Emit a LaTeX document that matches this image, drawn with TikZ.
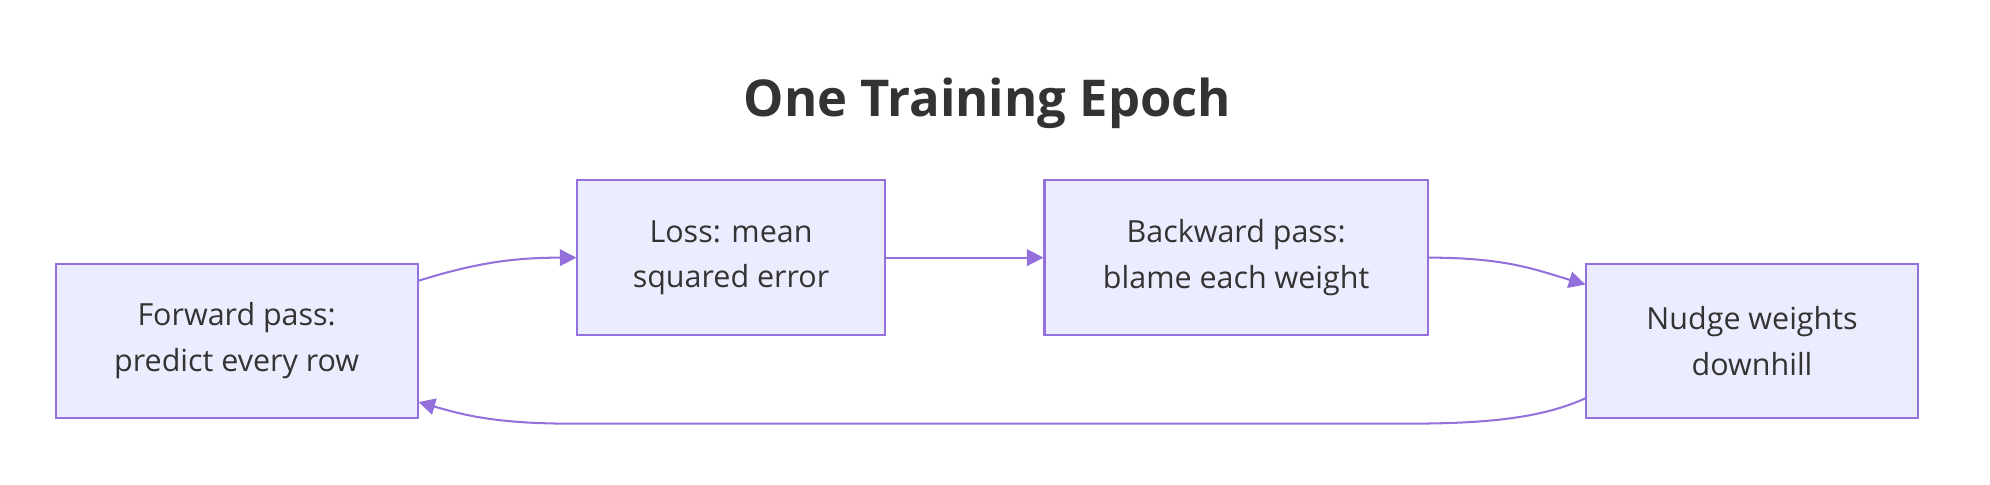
\documentclass[tikz,border=0pt]{standalone}
\usepackage{fontspec}
\setmainfont{Open Sans}
\usetikzlibrary{arrows.meta,calc}
\definecolor{boxfill}{HTML}{ECECFF}
\definecolor{boxline}{HTML}{9370DB}
\definecolor{txt}{HTML}{333333}
\tikzset{
  stepbox/.style={draw=boxline, fill=boxfill, line width=0.8pt, text=txt, align=center,
    font=\fontsize{12}{18}\selectfont, inner sep=0pt},
  arr/.style={draw=boxline, line width=0.8pt, -{Triangle[length=6.5pt,width=6.5pt]}},
}
\begin{document}
\begin{tikzpicture}[x=0.5pt,y=-0.5pt]
\useasboundingbox (0,0) rectangle (1568,381.4);
\node[text=txt, font=\fontsize{20}{24}\selectfont\bfseries, anchor=base] (title) at (778,92) {One Training Epoch};
\node[stepbox, minimum width=142.5pt, minimum height=60.5pt] (f) at (186.5,268.5) {Forward pass:\\predict every row};
\node[stepbox, minimum width=121pt, minimum height=61pt] (l) at (576,203) {Loss: mean\\squared error};
\node[stepbox, minimum width=151pt, minimum height=61pt] (b) at (974,203) {Backward pass:\\blame each weight};
\node[stepbox, minimum width=130.5pt, minimum height=60.5pt] (n) at (1380.5,268.5) {Nudge weights\\downhill};
\draw[arr] ($(f.north east)+(0,14)$) .. controls +(45,-14) and +(-50,0) .. (l.west);
\draw[arr] (l.east) -- (b.east -| b.west);
\draw[arr] (b.east) .. controls +(60,0) and +(-40,-12) .. ($(n.north west)+(0,17)$);
\draw[arr] ($(n.south west)+(0,-16)$) .. controls +(-35,16) and +(60,0) .. ($(n.south west)+(-140,4)$)
  -- ($(f.south east)+(120,4)$) .. controls +(-60,0) and +(35,10) .. ($(f.south east)+(0,-13)$);
\end{tikzpicture}
\end{document}
